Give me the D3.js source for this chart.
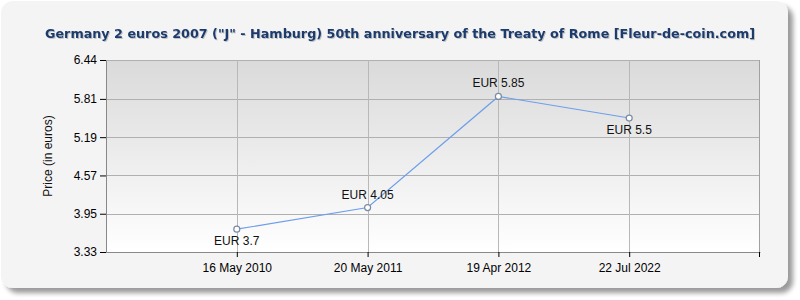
<!DOCTYPE html>
<html>
<head>
<meta charset="utf-8">
<script src="https://cdn.jsdelivr.net/npm/d3@7"></script>
<style>
	body { margin: 0; background: #fff; }
	text { font-family: "Liberation Sans", Arial, sans-serif; }
</style>
</head>
<body>
<div id="chart"></div>
<script>
const titleText = 'Germany 2 euros 2007 ("J" - Hamburg) 50th anniversary of the Treaty of Rome [Fleur-de-coin.com]';
const dates = ['16 May 2010', '20 May 2011', '19 Apr 2012', '22 Jul 2022'];
const prices = [3.7, 4.05, 5.85, 5.5];
const yTicks = [3.33, 3.95, 4.57, 5.19, 5.81, 6.44];

const width = 800;
const height = 300;
const margin = { top: 60, right: 40, bottom: 48, left: 106 };
const innerW = width - margin.left - margin.right;
const innerH = height - margin.top - margin.bottom;

const svg = d3.select('#chart').append('svg')
	.attr('width', width)
	.attr('height', height);

const defs = svg.append('defs');
const grad = defs.append('linearGradient')
	.attr('id', 'plotBg')
	.attr('x1', 0).attr('y1', 0).attr('x2', 0).attr('y2', 1);
grad.append('stop').attr('offset', '0%').attr('stop-color', '#dadada');
grad.append('stop').attr('offset', '100%').attr('stop-color', '#ffffff');

const shadow = defs.append('filter').attr('id', 'shadow')
	.attr('x', '-5%').attr('y', '-5%').attr('width', '110%').attr('height', '115%');
shadow.append('feGaussianBlur').attr('in', 'SourceAlpha').attr('stdDeviation', 2.5);
shadow.append('feOffset').attr('dx', 5).attr('dy', 5).attr('result', 'off');
shadow.append('feComponentTransfer').append('feFuncA').attr('type', 'linear').attr('slope', 0.4);
const merge = shadow.append('feMerge');
merge.append('feMergeNode');
merge.append('feMergeNode').attr('in', 'SourceGraphic');

const ts = defs.append('filter').attr('id', 'tshadow');
ts.append('feOffset').attr('in', 'SourceAlpha').attr('dx', 1).attr('dy', 1);
ts.append('feComponentTransfer').append('feFuncA').attr('type', 'linear').attr('slope', 0.2);
const tm = ts.append('feMerge');
tm.append('feMergeNode');
tm.append('feMergeNode').attr('in', 'SourceGraphic');

// outer panel
svg.append('rect')
	.attr('x', 1).attr('y', 1)
	.attr('width', 787).attr('height', 287)
	.attr('rx', 12)
	.attr('fill', '#f4f4f4')
	.attr('filter', 'url(#shadow)');

// title
svg.append('text')
	.attr('x', 400)
	.attr('y', 38)
	.attr('text-anchor', 'middle')
	.style('font-family', '"DejaVu Sans", Verdana, sans-serif')
	.style('font-weight', 'bold')
	.style('font-size', '13px')
	.attr('textLength', 710)
	.attr('lengthAdjust', 'spacingAndGlyphs')
	.attr('fill', '#1c3b6c')
	.attr('filter', 'url(#tshadow)')
	.text(titleText);

const chart = svg.append('g')
	.attr('transform', `translate(${margin.left}, ${margin.top})`);

const x = d3.scalePoint()
	.domain(dates)
	.range([0, innerW])
	.padding(1);
const y = d3.scaleLinear()
	.domain([yTicks[0], yTicks[yTicks.length - 1]])
	.range([innerH, 0]);

chart.append('rect')
	.attr('width', innerW)
	.attr('height', innerH)
	.attr('fill', 'url(#plotBg)');

// grid
chart.selectAll('.hgrid')
	.data(yTicks)
	.enter().append('line')
		.attr('x1', 0).attr('x2', innerW)
		.attr('y1', d => Math.round(y(d)) + 0.5)
		.attr('y2', d => Math.round(y(d)) + 0.5)
		.attr('stroke', '#b0b0b0');
chart.selectAll('.vgrid')
	.data(dates)
	.enter().append('line')
		.attr('x1', d => Math.round(x(d)) + 0.5)
		.attr('x2', d => Math.round(x(d)) + 0.5)
		.attr('y1', 0).attr('y2', innerH)
		.attr('stroke', '#b8b8b8');
chart.append('line')
	.attr('x1', innerW - 0.5).attr('x2', innerW - 0.5)
	.attr('y1', 0).attr('y2', innerH)
	.attr('stroke', '#a0a0a0');

// axes
const xAxis = d3.axisBottom(x)
	.tickSize(5)
	.tickSizeOuter(0)
	.tickPadding(6);
const yAxis = d3.axisLeft(y)
	.tickValues(yTicks)
	.tickFormat(d3.format('.2f'))
	.tickSize(6)
	.tickSizeOuter(0)
	.tickPadding(3);

const gx = chart.append('g')
	.attr('transform', `translate(0, ${innerH})`)
	.call(xAxis);
gx.append('line')
	.attr('x1', innerW - 0.5).attr('x2', innerW - 0.5)
	.attr('y1', 0).attr('y2', 5)
	.attr('stroke', '#000');
const gy = chart.append('g').call(yAxis);

[gx, gy].forEach((g) => {
	g.select('.domain').attr('stroke', '#888');
	g.selectAll('.tick line').attr('stroke', '#000');
	g.selectAll('.tick text')
		.style('font-family', '"Liberation Sans", Arial, sans-serif')
		.style('font-size', '12px')
		.attr('fill', '#000');
});

chart.append('text')
	.attr('transform', `translate(${-54}, ${innerH / 2}) rotate(-90)`)
	.attr('text-anchor', 'middle')
	.style('font-size', '12px')
	.attr('fill', '#111')
	.text('Price (in euros)');

// line + points
const pts = dates.map((d, i) => ({ date: d, value: prices[i], prev: i > 0 ? prices[i - 1] : Infinity }));

chart.append('path')
	.datum(pts)
	.attr('fill', 'none')
	.attr('stroke', '#6d9eeb')
	.attr('stroke-width', 1.2)
	.attr('d', d3.line().x(d => x(d.date)).y(d => y(d.value)));

chart.selectAll('.pt')
	.data(pts)
	.enter().append('circle')
		.attr('cx', d => x(d.date))
		.attr('cy', d => y(d.value))
		.attr('r', 3)
		.attr('fill', '#fff')
		.attr('stroke', '#7a8aa0')
		.attr('stroke-width', 1.2);

chart.selectAll('.pt-label')
	.data(pts)
	.enter().append('text')
		.attr('x', d => x(d.date))
		.attr('y', d => y(d.value) + (d.value >= d.prev ? -9 : 16))
		.attr('text-anchor', 'middle')
		.style('font-size', '12px')
		.attr('fill', '#111')
		.text(d => `EUR ${d.value}`);
</script>
</body>
</html>
